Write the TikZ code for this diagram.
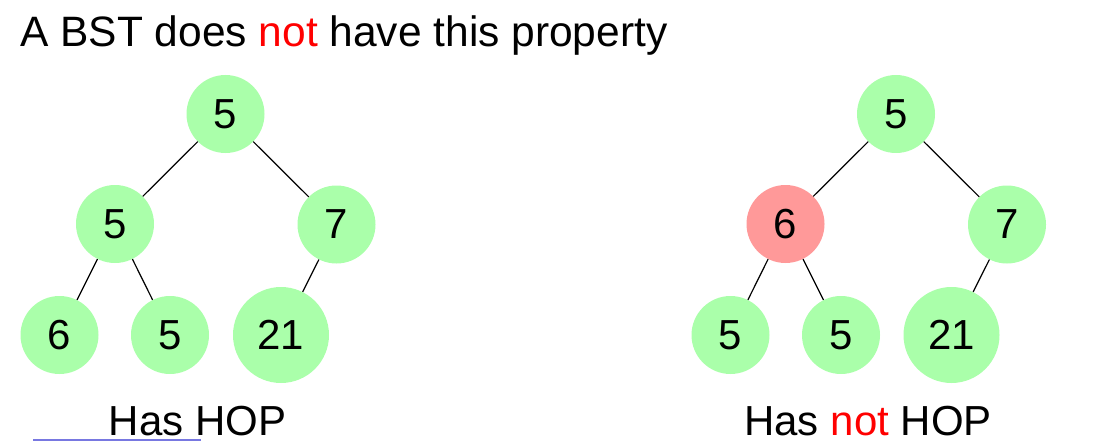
\documentclass[tikz,border=0pt]{standalone}
\usepackage{fontspec}
\setmainfont{Liberation Sans}
\usepackage{tikz}
\definecolor{heapgreen}{RGB}{170,255,170}
\definecolor{heapred}{RGB}{255,153,153}
\definecolor{linkblue}{RGB}{120,120,225}
\tikzset{
  key/.style={circle,fill=heapgreen,inner sep=0pt,minimum size=78pt,font=\fontsize{42}{50}\selectfont},
  bigkey/.style={key,minimum size=96pt},
  badkey/.style={key,fill=heapred},
  edge/.style={line width=1.2pt},
  caption/.style={anchor=base,inner sep=0pt,font=\fontsize{42}{50}\selectfont}
}
\begin{document}
\begin{tikzpicture}[x=1pt,y=-1pt]
      \useasboundingbox (0,0) rectangle (1110,441);
      \node[anchor=base west,inner sep=0pt,font=\fontsize{42.5}{50}\selectfont] (title) at (20,47) {A BST does \textcolor{red}{not} have this property};
      % left tree
      \node[key] (l0) at (225.5,114) {5};
      \node[key] (l1) at (115,224) {5};
      \node[key] (l2) at (336.5,224.5) {7};
      \node[key] (l3) at (59.5,335) {6};
      \node[key] (l4) at (170,335) {5};
      \node[bigkey] (l5) at (281,335) {21};
      \draw[edge] (l0) -- (l1);
      \draw[edge] (l0) -- (l2);
      \draw[edge] (l1) -- (l3);
      \draw[edge] (l1) -- (l4);
      \draw[edge] (l2) -- (l5);
      % right tree
      \node[key] (r0) at (896,114) {5};
      \node[badkey] (r1) at (785.5,224) {6};
      \node[key] (r2) at (1007,224.5) {7};
      \node[key] (r3) at (730.5,335) {5};
      \node[key] (r4) at (841,335) {5};
      \node[bigkey] (r5) at (951.5,335) {21};
      \draw[edge] (r0) -- (r1);
      \draw[edge] (r0) -- (r2);
      \draw[edge] (r1) -- (r3);
      \draw[edge] (r1) -- (r4);
      \draw[edge] (r2) -- (r5);
      \node[caption] (lhop) at (197.5,435) {Has HOP};
      \node[caption] (rhop) at (868,435) {Has \textcolor{red}{not} HOP};
      \coordinate (u1) at (33,440);
      \coordinate (u2) at (201,440);
      \draw[linkblue,line width=1.2pt] (u1) -- (u2);
\end{tikzpicture}
\end{document}
